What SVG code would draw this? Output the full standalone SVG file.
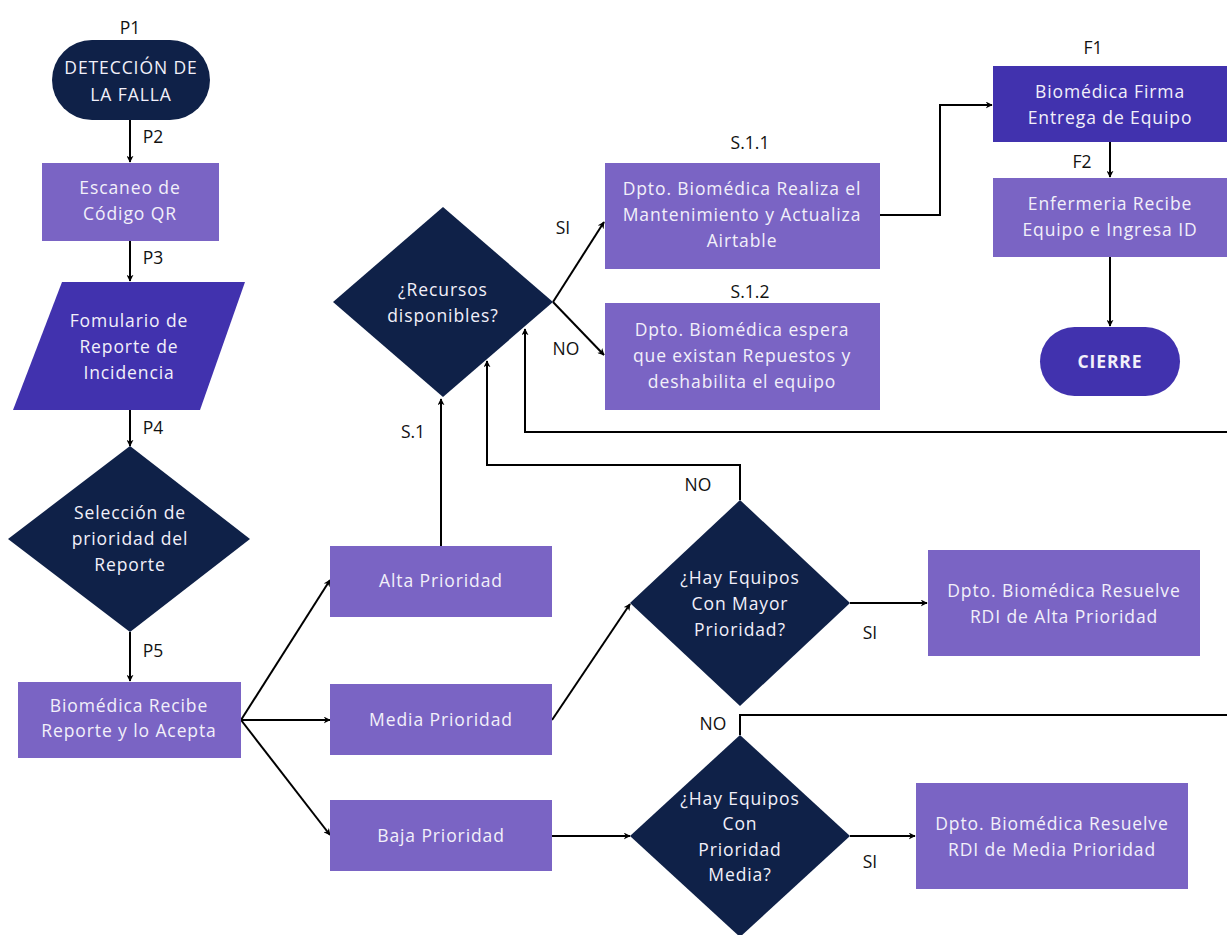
<svg xmlns="http://www.w3.org/2000/svg" width="1227" height="935" viewBox="0 0 1227 935">
<defs>
<marker id="ah" viewBox="0 0 10 10" refX="9" refY="5" markerWidth="7" markerHeight="7" markerUnits="userSpaceOnUse" orient="auto">
<path d="M0,0 L10,5 L0,10 L3,5 z" fill="#000"/>
</marker>
<style>
.navy{fill:#0f2148}
.mid{fill:#7a64c4}
.deep{fill:#4132ae}
.t{font-family:"Open Sans","Liberation Sans",sans-serif;font-size:17.5px;letter-spacing:0.9px;fill:#f2f0fa;text-anchor:middle}
.b{font-weight:bold}
.lb{font-family:"Open Sans","Liberation Sans",sans-serif;font-size:17.5px;fill:#111;text-anchor:middle}
.c{fill:none;stroke:#000;stroke-width:2}
.ca{fill:none;stroke:#000;stroke-width:2;marker-end:url(#ah)}
</style>
</defs>
<rect width="1227" height="935" fill="#fff"/>

<g id="connectors">
<line class="ca" x1="130" y1="120" x2="130" y2="162"/>
<line class="ca" x1="130" y1="241" x2="130" y2="281"/>
<line class="ca" x1="130" y1="410" x2="130" y2="446"/>
<line class="ca" x1="130" y1="632" x2="130" y2="681"/>
<line class="ca" x1="241" y1="720" x2="330" y2="580"/>
<line class="ca" x1="241" y1="720" x2="330" y2="720"/>
<line class="ca" x1="241" y1="720" x2="330" y2="835"/>
<line class="ca" x1="441" y1="546" x2="441" y2="399"/>
<line class="ca" x1="553" y1="302" x2="604" y2="222"/>
<line class="ca" x1="553" y1="302" x2="604" y2="355"/>
<polyline class="ca" points="880,215 940,215 940,105 992,105"/>
<line class="ca" x1="1110" y1="142" x2="1110" y2="177"/>
<line class="ca" x1="1110" y1="257" x2="1110" y2="326"/>
<polyline class="ca" points="1227,432 525,432 525,329"/>
<polyline class="ca" points="740,500 740,465 487,465 487,361"/>
<line class="ca" x1="552" y1="720" x2="630" y2="604"/>
<line class="ca" x1="850" y1="603" x2="927" y2="603"/>
<polyline class="c" points="740,735 740,715 1227,715"/>
<line class="ca" x1="552" y1="836" x2="630" y2="836"/>
<line class="ca" x1="850" y1="836" x2="915" y2="836"/>
<text class="lb" x="130" y="34">P1</text>
<text class="lb" x="153" y="143">P2</text>
<text class="lb" x="153" y="264">P3</text>
<text class="lb" x="153" y="434">P4</text>
<text class="lb" x="153" y="657">P5</text>
<text class="lb" x="413" y="438">S.1</text>
<text class="lb" x="563" y="234">SI</text>
<text class="lb" x="566" y="355">NO</text>
<text class="lb" x="750" y="149">S.1.1</text>
<text class="lb" x="750" y="298">S.1.2</text>
<text class="lb" x="1093" y="54">F1</text>
<text class="lb" x="1082" y="168">F2</text>
<text class="lb" x="698" y="491">NO</text>
<text class="lb" x="870" y="639">SI</text>
<text class="lb" x="713" y="730">NO</text>
<text class="lb" x="870" y="868">SI</text>
</g>

<g id="p1">
<rect class="navy" x="52" y="40" width="158" height="80" rx="40"/>
<text class="t" x="131" y="74">DETECCIÓN DE</text>
<text class="t" x="131" y="101">LA FALLA</text>
</g>
<g id="p2">
<rect class="mid" x="42" y="163" width="177" height="78"/>
<text class="t" x="130" y="194">Escaneo de</text>
<text class="t" x="130" y="220">Código QR</text>
</g>
<g id="p3">
<polygon class="deep" points="62,282 245,282 200,410 13,410"/>
<text class="t" x="129" y="327">Fomulario de</text>
<text class="t" x="129" y="353">Reporte de</text>
<text class="t" x="129" y="379">Incidencia</text>
</g>
<g id="p4">
<polygon class="navy" points="130,446 250,539 130,632 8,539"/>
<text class="t" x="130" y="519">Selección de</text>
<text class="t" x="130" y="545">prioridad del</text>
<text class="t" x="130" y="571">Reporte</text>
</g>
<g id="p5">
<rect class="mid" x="18" y="682" width="223" height="76"/>
<text class="t" x="129" y="712">Biomédica Recibe</text>
<text class="t" x="129" y="737">Reporte y lo Acepta</text>
</g>
<g id="alta">
<rect class="mid" x="330" y="546" width="222" height="71"/>
<text class="t" x="441" y="587">Alta Prioridad</text>
</g>
<g id="media">
<rect class="mid" x="330" y="684" width="222" height="71"/>
<text class="t" x="441" y="726">Media Prioridad</text>
</g>
<g id="baja">
<rect class="mid" x="330" y="800" width="222" height="71"/>
<text class="t" x="441" y="842">Baja Prioridad</text>
</g>
<g id="recursos">
<polygon class="navy" points="443,207 553,302 443,397 333,302"/>
<text class="t" x="443" y="296">¿Recursos</text>
<text class="t" x="443" y="322">disponibles?</text>
</g>
<g id="s11">
<rect class="mid" x="605" y="163" width="275" height="106"/>
<text class="t" x="742" y="195">Dpto. Biomédica Realiza el</text>
<text class="t" x="742" y="221">Mantenimiento y Actualiza</text>
<text class="t" x="742" y="247">Airtable</text>
</g>
<g id="s12">
<rect class="mid" x="605" y="303" width="275" height="107"/>
<text class="t" x="742" y="336">Dpto. Biomédica espera</text>
<text class="t" x="742" y="362">que existan Repuestos y</text>
<text class="t" x="742" y="388">deshabilita el equipo</text>
</g>
<g id="f1">
<rect class="deep" x="993" y="66" width="234" height="76"/>
<text class="t" x="1110" y="98">Biomédica Firma</text>
<text class="t" x="1110" y="124">Entrega de Equipo</text>
</g>
<g id="f2">
<rect class="mid" x="993" y="178" width="234" height="79"/>
<text class="t" x="1110" y="210">Enfermeria Recibe</text>
<text class="t" x="1110" y="236">Equipo e Ingresa ID</text>
</g>
<g id="cierre">
<rect class="deep" x="1040" y="327" width="140" height="69" rx="34.5"/>
<text class="t b" x="1110" y="368">CIERRE</text>
</g>
<g id="mayor">
<polygon class="navy" points="740,500 850,603 740,706 630,603"/>
<text class="t" x="740" y="584">¿Hay Equipos</text>
<text class="t" x="740" y="610">Con Mayor</text>
<text class="t" x="740" y="636">Prioridad?</text>
</g>
<g id="resuelve-alta">
<rect class="mid" x="928" y="550" width="272" height="106"/>
<text class="t" x="1064" y="597">Dpto. Biomédica Resuelve</text>
<text class="t" x="1064" y="623">RDI de Alta Prioridad</text>
</g>
<g id="mediadec">
<polygon class="navy" points="740,735 850,836 740,937 630,836"/>
<text class="t" x="740" y="805">¿Hay Equipos</text>
<text class="t" x="740" y="830">Con</text>
<text class="t" x="740" y="856">Prioridad</text>
<text class="t" x="740" y="881">Media?</text>
</g>
<g id="resuelve-media">
<rect class="mid" x="916" y="783" width="272" height="106"/>
<text class="t" x="1052" y="830">Dpto. Biomédica Resuelve</text>
<text class="t" x="1052" y="856">RDI de Media Prioridad</text>
</g>
</svg>
